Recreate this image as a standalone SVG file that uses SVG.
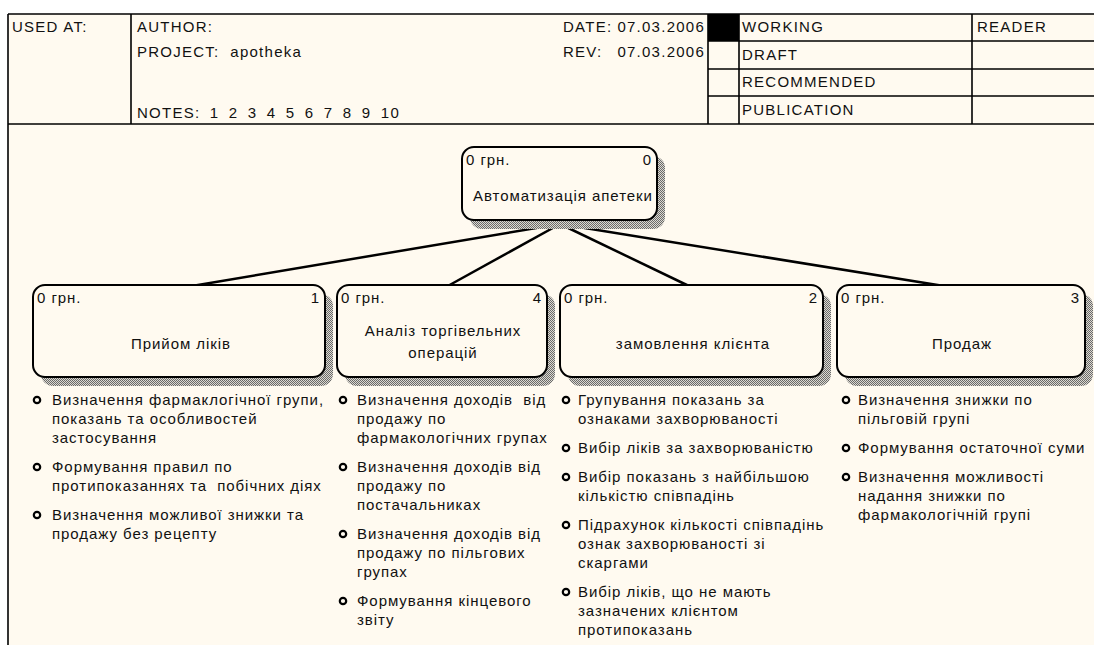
<svg xmlns="http://www.w3.org/2000/svg" width="1094" height="645" viewBox="0 0 1094 645">
<style>
.t{font-family:"Liberation Sans",Arial,sans-serif;font-size:15px;fill:#111;letter-spacing:0.95px;white-space:pre}
.h{font-family:"Liberation Sans",Arial,sans-serif;font-size:15px;fill:#111;letter-spacing:1.25px;white-space:pre}
.ln{stroke:#000;stroke-width:1.6;fill:none}
.box{fill:#fffaf0;stroke:#000;stroke-width:2}
.sh{fill:url(#hatch)}
.b{fill:none;stroke:#000;stroke-width:2.2}
.c{stroke:#000;stroke-width:2.5;fill:none}
.m{text-anchor:middle}
.e{text-anchor:end}
</style>
<defs>
<pattern id="hatch" width="2" height="2" patternUnits="userSpaceOnUse">
<rect width="2" height="2" fill="#dcd9d1"/>
<rect width="1" height="1" fill="#6a6a6a"/>
<rect x="1" y="1" width="1" height="1" fill="#6a6a6a"/>
</pattern>
<clipPath id="clip0"><rect x="462" y="147" width="193" height="73"/></clipPath>
</defs>
<rect width="1094" height="645" fill="#ffffff"/>
<rect x="8" y="14" width="1086" height="631" fill="#fffaf0"/>
<g id="header">
<line class="ln" x1="8" y1="14" x2="8" y2="645"/>
<line class="ln" x1="8" y1="14" x2="1094" y2="14"/>
<line class="ln" x1="8" y1="124" x2="1094" y2="124"/>
<line class="ln" x1="131" y1="14" x2="131" y2="124"/>
<line class="ln" x1="708" y1="14" x2="708" y2="124"/>
<line class="ln" x1="739" y1="14" x2="739" y2="124"/>
<line class="ln" x1="972" y1="14" x2="972" y2="124"/>
<line class="ln" x1="708" y1="41" x2="1094" y2="41"/>
<line class="ln" x1="708" y1="69" x2="1094" y2="69"/>
<line class="ln" x1="708" y1="96" x2="1094" y2="96"/>
<rect x="708" y="14" width="31" height="27" fill="#000"/>
<text class="h" x="12" y="32">USED AT:</text>
<text class="h" x="137" y="32">AUTHOR:</text>
<text class="h" x="137" y="57" xml:space="preserve">PROJECT:  apotheka</text>
<text class="h" x="137" y="118" style="word-spacing:4px">NOTES: 1 2 3 4 5 6 7 8 9 10</text>
<text class="h" x="563" y="32">DATE:</text>
<text class="h e" x="705" y="32">07.03.2006</text>
<text class="h" x="563" y="57">REV:</text>
<text class="h e" x="705" y="57">07.03.2006</text>
<text class="h" x="742" y="32">WORKING</text>
<text class="h" x="742" y="60">DRAFT</text>
<text class="h" x="742" y="87">RECOMMENDED</text>
<text class="h" x="742" y="115">PUBLICATION</text>
<text class="h" x="977" y="32">READER</text>
</g>
<g id="connectors">
<line class="c" x1="560" y1="224" x2="186" y2="287"/>
<line class="c" x1="560" y1="224" x2="446" y2="287"/>
<line class="c" x1="560" y1="224" x2="691" y2="287"/>
<line class="c" x1="560" y1="224" x2="950" y2="287"/>
</g>
<g id="node0">
<rect class="sh" x="470" y="156" width="195" height="73" rx="12"/>
<rect class="box" x="462" y="147" width="195" height="73" rx="12"/>
<text class="t" x="466" y="165">0 грн.</text>
<text class="t e" x="652" y="165">0</text>
<text class="t" x="473" y="201" clip-path="url(#clip0)">Автоматизація апетеки</text>
</g>
<g id="node1">
<rect class="sh" x="41" y="294" width="292" height="92" rx="12"/>
<rect class="box" x="33" y="285" width="292" height="92" rx="12"/>
<text class="t" x="37" y="303">0 грн.</text>
<text class="t e" x="320" y="303">1</text>
<text class="t m" x="181" y="349">Прийом ліків</text>
</g>
<g id="node4">
<rect class="sh" x="345" y="294" width="210" height="92" rx="12"/>
<rect class="box" x="337" y="285" width="210" height="92" rx="12"/>
<text class="t" x="341" y="303">0 грн.</text>
<text class="t e" x="542" y="303">4</text>
<text class="t m" x="443" y="336">Аналіз торгівельних</text>
<text class="t m" x="443" y="358">операцій</text>
</g>
<g id="node2">
<rect class="sh" x="568" y="294" width="263" height="92" rx="12"/>
<rect class="box" x="560" y="285" width="263" height="92" rx="12"/>
<text class="t" x="564" y="303">0 грн.</text>
<text class="t e" x="818" y="303">2</text>
<text class="t m" x="693" y="349">замовлення клієнта</text>
</g>
<g id="node3">
<rect class="sh" x="845" y="294" width="248" height="92" rx="12"/>
<rect class="box" x="837" y="285" width="248" height="92" rx="12"/>
<text class="t" x="841" y="303">0 грн.</text>
<text class="t e" x="1080" y="303">3</text>
<text class="t m" x="962" y="349">Продаж</text>
</g>
<g id="notes1">
<circle class="b" cx="37" cy="400" r="3.2"/>
<circle class="b" cx="37" cy="467" r="3.2"/>
<circle class="b" cx="37" cy="515" r="3.2"/>
<text class="t" x="52" y="405">Визначення фармаклогічної групи,</text>
<text class="t" x="52" y="424">показань та особливостей</text>
<text class="t" x="52" y="443">застосування</text>
<text class="t" x="52" y="472">Формування правил по</text>
<text class="t" x="52" y="491" xml:space="preserve">протипоказаннях та  побічних діях</text>
<text class="t" x="52" y="520">Визначення можливої знижки та</text>
<text class="t" x="52" y="539">продажу без рецепту</text>
</g>
<g id="notes4">
<circle class="b" cx="343" cy="400" r="3.2"/>
<circle class="b" cx="343" cy="467" r="3.2"/>
<circle class="b" cx="343" cy="534" r="3.2"/>
<circle class="b" cx="343" cy="601" r="3.2"/>
<text class="t" x="357" y="405" xml:space="preserve">Визначення доходів  від</text>
<text class="t" x="357" y="424">продажу по</text>
<text class="t" x="357" y="443">фармакологічних групах</text>
<text class="t" x="357" y="472">Визначення доходів від</text>
<text class="t" x="357" y="491">продажу по</text>
<text class="t" x="357" y="510">постачальниках</text>
<text class="t" x="357" y="539">Визначення доходів від</text>
<text class="t" x="357" y="558">продажу по пільгових</text>
<text class="t" x="357" y="577">групах</text>
<text class="t" x="357" y="606">Формування кінцевого</text>
<text class="t" x="357" y="625">звіту</text>
</g>
<g id="notes2">
<circle class="b" cx="566" cy="400" r="3.2"/>
<circle class="b" cx="566" cy="448" r="3.2"/>
<circle class="b" cx="566" cy="477" r="3.2"/>
<circle class="b" cx="566" cy="525" r="3.2"/>
<circle class="b" cx="566" cy="592" r="3.2"/>
<text class="t" x="578" y="405">Групування показань за</text>
<text class="t" x="578" y="424">ознаками захворюваності</text>
<text class="t" x="578" y="453">Вибір ліків за захворюваністю</text>
<text class="t" x="578" y="482">Вибір показань з найбільшою</text>
<text class="t" x="578" y="501">кількістю співпадінь</text>
<text class="t" x="578" y="530">Підрахунок кількості співпадінь</text>
<text class="t" x="578" y="549">ознак захворюваності зі</text>
<text class="t" x="578" y="568">скаргами</text>
<text class="t" x="578" y="597">Вибір ліків, що не мають</text>
<text class="t" x="578" y="616">зазначених клієнтом</text>
<text class="t" x="578" y="635">протипоказань</text>
</g>
<g id="notes3">
<circle class="b" cx="846" cy="400" r="3.2"/>
<circle class="b" cx="846" cy="448" r="3.2"/>
<circle class="b" cx="846" cy="477" r="3.2"/>
<text class="t" x="858" y="405">Визначення знижки по</text>
<text class="t" x="858" y="424">пільговій групі</text>
<text class="t" x="858" y="453">Формування остаточної суми</text>
<text class="t" x="858" y="482">Визначення можливості</text>
<text class="t" x="858" y="501">надання знижки по</text>
<text class="t" x="858" y="520">фармакологічній групі</text>
</g>
</svg>
